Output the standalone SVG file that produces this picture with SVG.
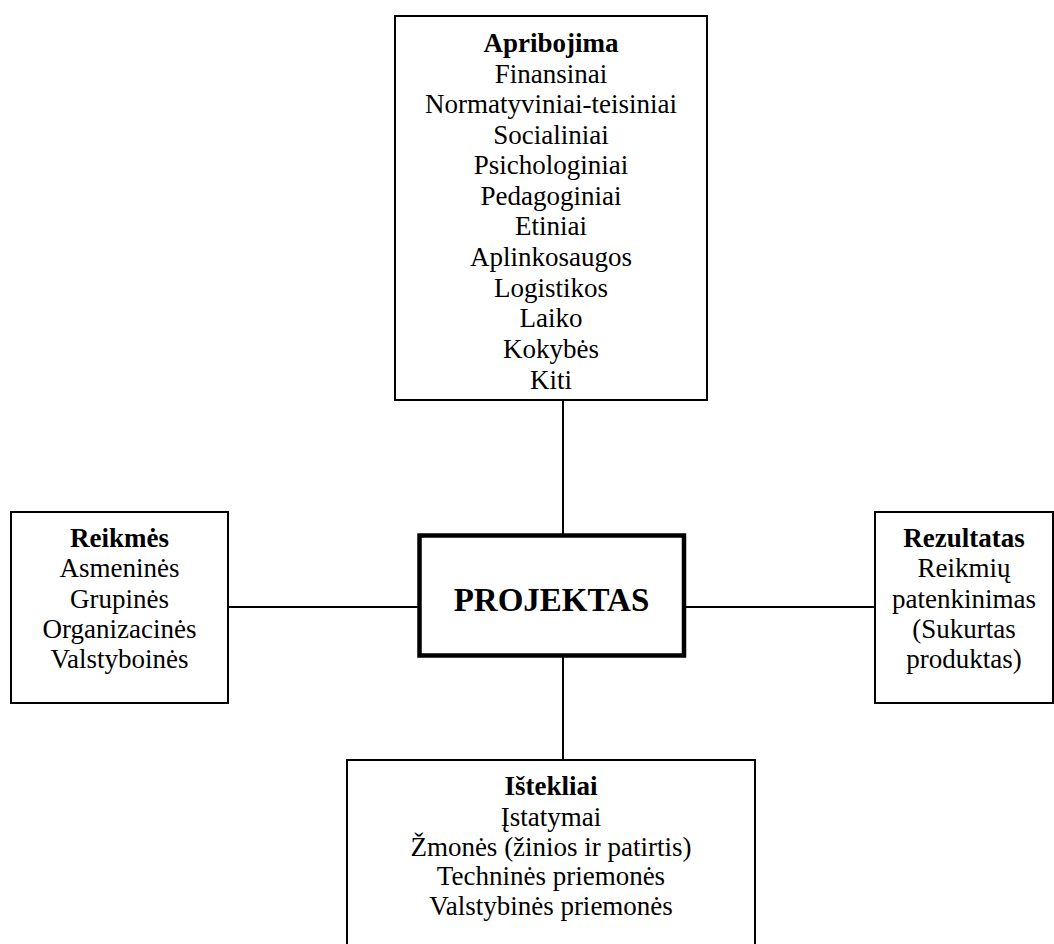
<svg xmlns="http://www.w3.org/2000/svg" width="1054" height="944" viewBox="0 0 1054 944">
<style>
.box{fill:#fff;stroke:#000;stroke-width:2}
.main{fill:#fff;stroke:#000;stroke-width:4.5}
.conn{stroke:#000;stroke-width:2;fill:none}
text{font-family:"Liberation Serif","Times New Roman",serif;font-size:27px;fill:#000;text-anchor:middle}
.b{font-weight:bold}
.big{font-weight:bold;font-size:33px}
</style>
<rect width="1054" height="944" fill="#fff"/>
<g id="connectors">
<line class="conn" x1="563" y1="400" x2="563" y2="534"/>
<line class="conn" x1="563" y1="657" x2="563" y2="760"/>
<line class="conn" x1="228" y1="607" x2="418" y2="607"/>
<line class="conn" x1="685" y1="607" x2="875" y2="607"/>
</g>
<g id="apribojima">
<rect class="box" x="395" y="16" width="312" height="384"/>
<text x="551" y="52" class="b">Apribojima</text>
<text x="551" y="83">Finansinai</text>
<text x="551" y="113">Normatyviniai-teisiniai</text>
<text x="551" y="144">Socialiniai</text>
<text x="551" y="174">Psichologiniai</text>
<text x="551" y="205">Pedagoginiai</text>
<text x="551" y="235">Etiniai</text>
<text x="551" y="266">Aplinkosaugos</text>
<text x="551" y="297">Logistikos</text>
<text x="551" y="327">Laiko</text>
<text x="551" y="358">Kokybės</text>
<text x="551" y="389">Kiti</text>
</g>
<g id="reikmes">
<rect class="box" x="11" y="512" width="217" height="191"/>
<text x="119.5" y="547" class="b">Reikmės</text>
<text x="119.5" y="577">Asmeninės</text>
<text x="119.5" y="608">Grupinės</text>
<text x="119.5" y="638">Organizacinės</text>
<text x="119.5" y="668">Valstyboinės</text>
</g>
<g id="projektas">
<rect class="main" x="419.5" y="535.5" width="264.5" height="120"/>
<text x="551.5" y="611" class="big">PROJEKTAS</text>
</g>
<g id="rezultatas">
<rect class="box" x="875" y="512" width="178" height="191"/>
<text x="964" y="547" class="b">Rezultatas</text>
<text x="964" y="577">Reikmių</text>
<text x="964" y="608">patenkinimas</text>
<text x="964" y="638">(Sukurtas</text>
<text x="964" y="668">produktas)</text>
</g>
<g id="istekliai">
<rect class="box" x="347" y="760" width="408" height="220"/>
<text x="551" y="795" class="b">Ištekliai</text>
<text x="551" y="826">Įstatymai</text>
<text x="551" y="856">Žmonės (žinios ir patirtis)</text>
<text x="551" y="885">Techninės priemonės</text>
<text x="551" y="915">Valstybinės priemonės</text>
</g>
</svg>
